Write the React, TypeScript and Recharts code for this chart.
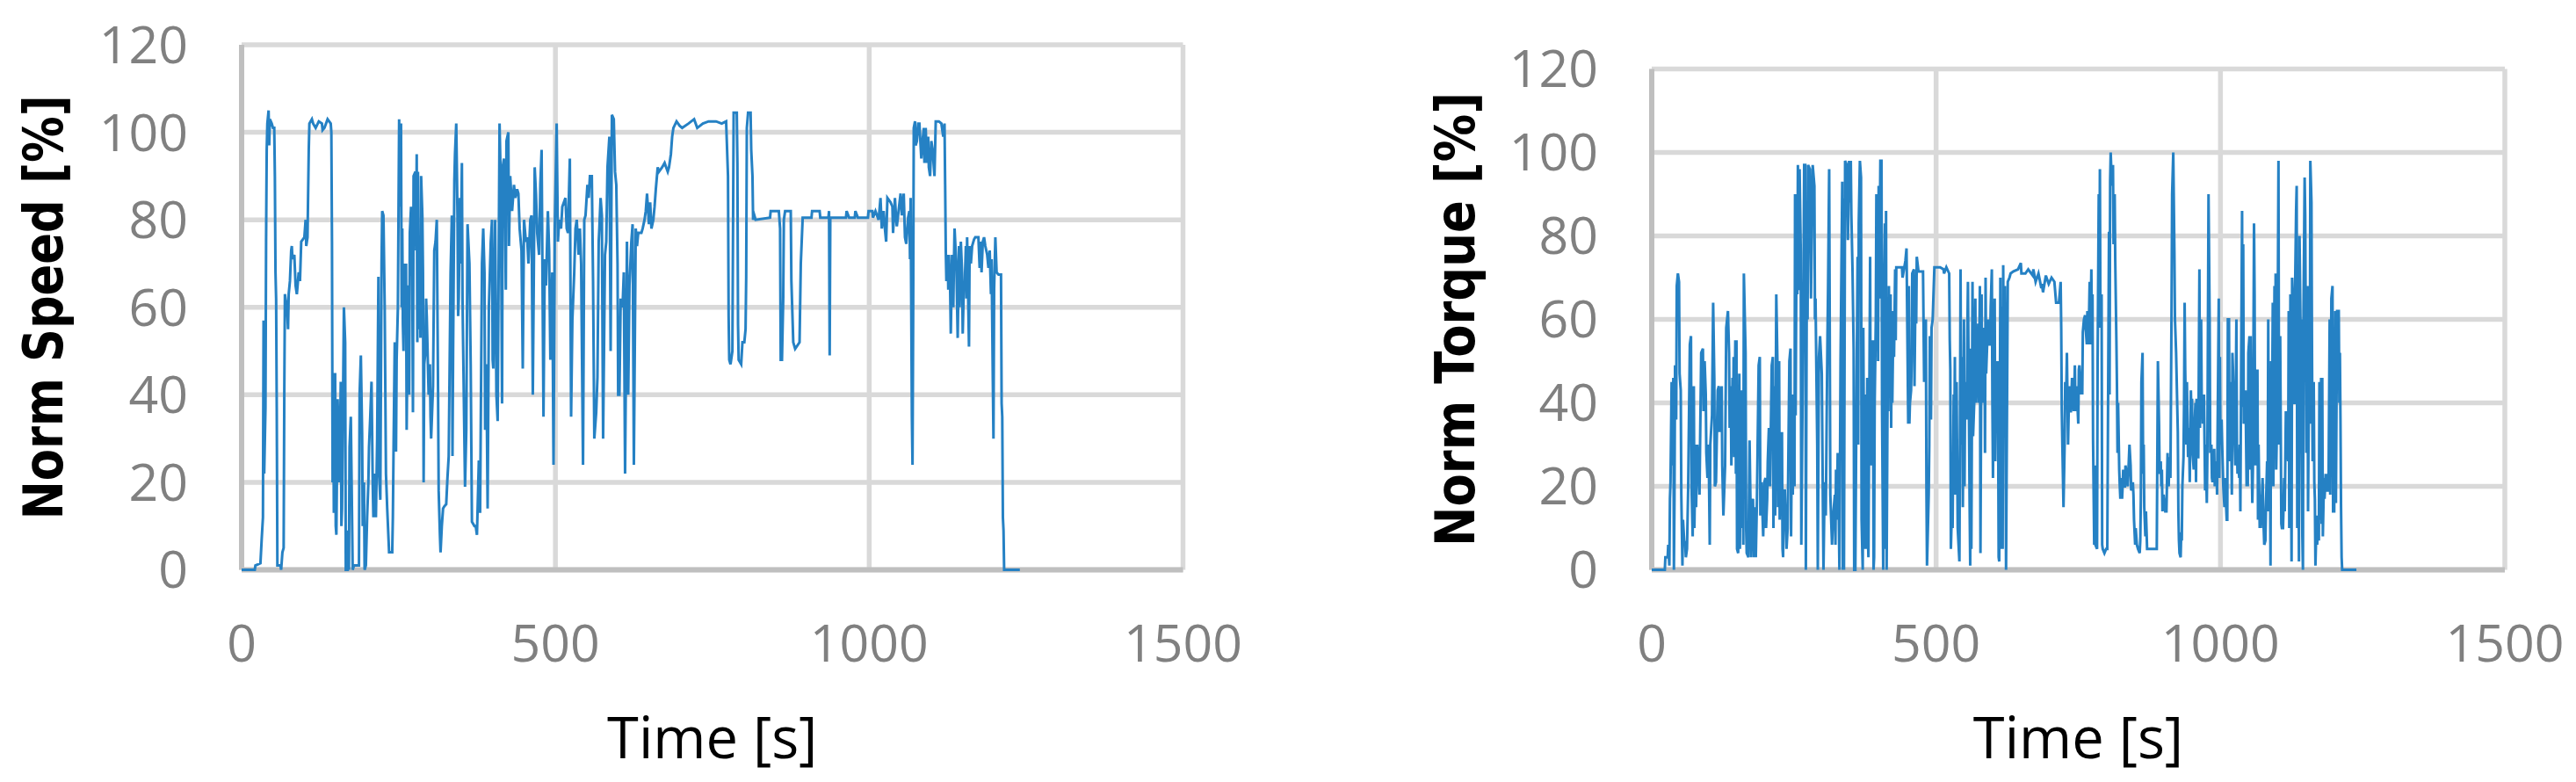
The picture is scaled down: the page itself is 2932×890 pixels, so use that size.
import { LineChart, Line, XAxis, YAxis, CartesianGrid } from "recharts";

// x axis: time in seconds, y axis: normalised percentage
const timeTicks = [0, 500, 1000, 1500];
const pctTicks = [0, 20, 40, 60, 80, 100, 120];

// [time s, norm speed %]
const speedSamples: [number, number][] = [
  [0, 0], [21, 0], [22, 1], [30, 1.5], [32, 7], [34, 12], [35, 57], [36, 22], [38, 37], [39, 75],
  [40, 96], [41, 102], [43, 105], [44, 97], [45, 103], [48, 102], [50, 101], [52, 101], [53, 90], [54, 68],
  [55, 62], [56, 37], [57, 1], [62, 1], [63, 0], [65, 4], [67, 5], [68, 40], [69, 63], [72, 60],
  [73, 58], [74, 55], [75, 63], [77, 66], [79, 73], [80, 74], [81, 71], [84, 72], [86, 65], [88, 63],
  [91, 68], [93, 66], [95, 75], [100, 76], [102, 80], [103, 74], [105, 76], [107, 96], [108, 102], [112, 103],
  [114, 102], [118, 101], [123, 102.5], [128, 102], [129, 100.5], [132, 101], [137, 103], [142, 102], [143, 100], [144, 75],
  [145, 20], [146, 45], [147, 13], [149, 45], [150, 10], [151, 8], [153, 39], [156, 20], [158, 43], [159, 10],
  [160, 14], [163, 60], [165, 52], [166, 0], [169, 0], [170, 9], [171, 0], [172, 28], [174, 35], [177, 0],
  [179, 1], [187, 1], [188, 40], [190, 49], [192, 31], [193, 10], [195, 20], [196, 0], [198, 1], [200, 12],
  [202, 20], [203, 28], [205, 35], [207, 43], [209, 19], [210, 12], [212, 22], [214, 12], [216, 30], [218, 67],
  [219, 22], [221, 16], [223, 70], [224, 82], [226, 81], [228, 60], [230, 22], [232, 14], [235, 4], [240, 4],
  [241, 12], [242, 26], [244, 52], [246, 27], [247, 48], [249, 60], [251, 103], [252, 83], [254, 102], [255, 60],
  [256, 78], [257, 56], [258, 50], [259, 70], [260, 60], [262, 70], [263, 32], [265, 65], [267, 40], [268, 77],
  [270, 83], [272, 67], [273, 36], [274, 90], [277, 91], [278, 73], [279, 95], [280, 52], [281, 91], [282, 55],
  [284, 70], [285, 53], [286, 90], [288, 81], [289, 68], [290, 20], [291, 47], [293, 50], [294, 62], [295, 58],
  [298, 40], [300, 47], [301, 35], [302, 30], [305, 42], [307, 73], [309, 75], [311, 80], [313, 41], [314, 18],
  [316, 8], [317, 4], [319, 10], [321, 14], [323, 14.5], [326, 15], [328, 21], [330, 26], [333, 68], [335, 81],
  [336, 26], [337, 50], [339, 89], [340, 95], [342, 102], [344, 81], [345, 58], [346, 62], [348, 85], [349, 70],
  [351, 93], [352, 62], [353, 51], [356, 19], [358, 32], [360, 79], [363, 70], [365, 47], [367, 11], [371, 10],
  [373, 10], [375, 8], [378, 25], [380, 13], [383, 70], [385, 78], [387, 68], [388, 32], [390, 47], [392, 14],
  [394, 60], [397, 75], [399, 80], [400, 48], [401, 46], [404, 80], [406, 40], [408, 34], [411, 102], [413, 88],
  [415, 38], [416, 92], [418, 94], [420, 78], [421, 64], [422, 98], [425, 100], [426, 74], [428, 90], [431, 82],
  [434, 88], [436, 85], [439, 87], [441, 86], [443, 78], [446, 73], [448, 46], [450, 80], [453, 75], [455, 76],
  [457, 70], [460, 80], [462, 81], [464, 40], [467, 92], [469, 86], [471, 77], [474, 72], [476, 88], [478, 96],
  [481, 35], [483, 71], [485, 65], [488, 82], [490, 73], [492, 48], [495, 68], [497, 24], [499, 78], [502, 102],
  [504, 75], [506, 80], [509, 78], [511, 83], [516, 85], [518, 78], [520, 77], [523, 94], [525, 35], [527, 57],
  [530, 68], [532, 78], [534, 80], [537, 72], [539, 78], [541, 70], [544, 24], [546, 80], [548, 81], [551, 88],
  [553, 85], [555, 90], [558, 90], [560, 66], [562, 30], [565, 36], [567, 44], [568, 60], [569, 75], [570, 78],
  [572, 85], [574, 81], [576, 30], [579, 72], [581, 75], [583, 92], [586, 99], [588, 50], [590, 104], [593, 103],
  [595, 91], [597, 88], [599, 70], [600, 40], [602, 40], [604, 62], [607, 60], [609, 68], [611, 22], [614, 75],
  [616, 40], [618, 65], [621, 75], [623, 79], [625, 24], [628, 78], [630, 74], [632, 77], [637, 77], [639, 78],
  [642, 80], [644, 82], [646, 86], [649, 79], [651, 84], [653, 78], [656, 80], [658, 83], [660, 87], [663, 92],
  [665, 91], [670, 92], [674, 93], [679, 91], [681, 92], [684, 95], [686, 99], [688, 101], [693, 102.5], [698, 101.5],
  [702, 101], [712, 102], [721, 103], [726, 101], [735, 102], [744, 102.5], [756, 102.5], [765, 102], [772, 102.5], [775, 90],
  [776, 58], [777, 48], [779, 47], [782, 50], [784, 104.5], [789, 104.5], [790, 93], [791, 56], [792, 48], [796, 47],
  [798, 52], [801, 52], [803, 55], [804, 67], [805, 101], [807, 104.5], [811, 104.5], [812, 96], [814, 90], [815, 80],
  [817, 81], [819, 80], [842, 80.5], [843, 82], [856, 82], [858, 78], [859, 48], [861, 48], [863, 62], [864, 80],
  [866, 82], [875, 82], [876, 66], [879, 52], [882, 50.5], [889, 52], [891, 70], [894, 80.5], [908, 80.5], [909, 82],
  [921, 82], [922, 80.5], [935, 80.5], [936, 82], [937, 49], [938, 80.5], [963, 80.5], [964, 82], [968, 80.5], [977, 80.5],
  [978, 82], [982, 80.5], [998, 80.5], [999, 82], [1005, 82], [1006, 80.5], [1010, 82], [1015, 80], [1018, 85], [1020, 78],
  [1023, 82], [1025, 78], [1027, 75], [1029, 85], [1034, 84], [1037, 83], [1038, 77], [1041, 85], [1043, 80], [1044, 78.5],
  [1048, 83.5], [1050, 86], [1052, 81], [1055, 86], [1057, 76], [1059, 74.5], [1062, 80.5], [1064, 82], [1065, 71], [1066, 85],
  [1068, 35], [1069, 24], [1070, 57], [1071, 101], [1073, 102.5], [1074, 97], [1076, 98], [1078, 102], [1080, 102], [1083, 94],
  [1085, 98], [1087, 101], [1088, 93], [1090, 101], [1092, 93], [1094, 99], [1095, 92], [1097, 90], [1099, 98], [1101, 96],
  [1104, 90], [1106, 102.5], [1111, 102.5], [1115, 102], [1118, 99], [1120, 102], [1121, 88], [1122, 73], [1123, 66], [1125, 72],
  [1126, 64], [1127, 72], [1129, 64], [1130, 54], [1132, 72], [1133, 67], [1134, 60], [1135, 70], [1136, 78], [1139, 69],
  [1141, 53], [1143, 74], [1144, 60], [1146, 75], [1148, 68], [1149, 54], [1151, 66], [1152, 64], [1154, 74], [1155, 62],
  [1156, 76], [1157, 68], [1159, 51], [1160, 74], [1162, 70], [1164, 74], [1167, 75.5], [1169, 76], [1174, 76], [1176, 69],
  [1177, 75], [1178, 73], [1179, 68], [1181, 75], [1183, 76], [1185, 74], [1188, 72], [1190, 69], [1192, 73], [1194, 63],
  [1195, 71], [1197, 43], [1198, 30], [1199, 64], [1201, 76], [1203, 68], [1206, 67.5], [1210, 67.5], [1211, 38], [1212, 35],
  [1213, 12], [1214, 9], [1215, 0], [1240, 0],
];

// [time s, norm torque %]
const torqueSamples: [number, number][] = [
  [0, 0], [23, 0], [24, 3], [28, 3], [29, 6], [31, 1], [32, 17], [33, 21], [35, 45], [36, 25],
  [38, 46], [39, 0], [40, 17], [41, 49], [43, 36], [44, 68], [46, 71], [48, 69], [49, 47], [51, 43],
  [52, 18], [54, 1], [55, 12], [57, 7], [59, 6], [60, 3], [62, 5], [64, 19], [67, 54], [69, 56],
  [70, 20], [72, 8], [74, 44], [75, 10], [77, 30], [78, 15], [80, 30], [82, 25], [84, 18], [85, 30],
  [87, 52], [90, 53], [91, 38], [93, 50], [95, 42], [96, 28], [98, 22], [100, 30], [102, 6], [103, 30],
  [106, 37], [108, 64], [110, 46], [111, 20], [113, 21], [116, 43], [118, 44], [119, 33], [121, 40], [123, 44],
  [124, 25], [126, 13], [129, 25], [131, 58], [134, 62], [136, 52], [137, 34], [139, 44], [140, 25], [142, 46],
  [143, 28], [144, 51], [145, 27], [147, 55], [148, 23], [149, 55], [150, 5], [152, 4], [154, 47], [155, 5],
  [157, 43], [158, 10], [160, 40], [161, 6], [162, 71], [165, 52], [166, 10], [167, 4], [170, 3], [172, 31],
  [175, 3], [176, 16], [178, 17], [180, 3], [181, 15], [183, 3], [185, 17], [188, 49], [190, 51], [191, 13],
  [193, 21], [196, 8], [198, 21], [200, 22], [201, 10], [203, 17], [204, 26], [206, 34], [208, 20], [211, 49],
  [213, 51], [214, 10], [216, 44], [217, 13], [219, 66], [221, 50], [222, 15], [224, 50], [225, 12], [226, 31],
  [229, 33], [230, 5], [231, 3], [232, 19], [234, 19], [237, 5], [239, 10], [240, 24], [242, 50], [244, 53],
  [245, 8], [247, 42], [248, 18], [250, 41], [251, 20], [252, 90], [253, 37], [255, 90], [256, 66], [257, 97],
  [258, 67], [260, 96], [262, 76], [263, 6], [265, 38], [267, 73], [268, 97], [270, 97], [271, 0], [273, 85],
  [274, 60], [275, 97], [278, 96], [279, 77], [280, 65], [283, 97], [286, 92], [287, 60], [288, 65], [291, 30],
  [292, 0], [294, 51], [296, 56], [299, 47], [301, 15], [302, 0], [304, 21], [306, 13], [309, 56], [310, 67],
  [312, 96], [314, 18], [317, 6], [319, 13], [322, 18], [323, 6], [324, 24], [325, 12], [327, 28], [329, 12],
  [330, 0], [332, 50], [335, 93], [336, 0], [337, 89], [338, 0], [340, 98], [343, 97], [345, 79], [347, 98],
  [348, 88], [350, 98], [351, 85], [353, 72], [355, 53], [356, 0], [358, 0], [360, 42], [362, 75], [363, 30],
  [364, 83], [366, 98], [368, 94], [369, 12], [371, 0], [372, 58], [374, 5], [376, 42], [377, 5], [379, 46],
  [380, 9], [381, 3], [384, 75], [385, 25], [386, 55], [387, 34], [389, 55], [390, 0], [391, 3], [392, 40],
  [394, 60], [395, 90], [397, 87], [398, 50], [399, 92], [400, 65], [402, 98], [404, 98], [405, 38], [407, 0],
  [408, 62], [410, 83], [411, 5], [412, 86], [413, 0], [415, 51], [416, 38], [417, 68], [418, 42], [420, 66],
  [421, 34], [422, 62], [423, 40], [425, 62], [426, 51], [428, 72], [429, 55], [430, 72.5], [440, 72.5], [441, 70],
  [446, 74], [448, 77], [451, 35], [452, 68], [453, 35], [454, 40], [456, 43], [457, 50], [458, 71], [461, 72],
  [462, 44], [464, 70], [465, 59], [466, 75], [469, 71.5], [477, 71.5], [479, 45], [482, 60], [483, 20], [484, 1],
  [487, 18], [488, 30], [489, 56], [491, 36], [492, 58], [494, 60], [497, 72.5], [507, 72.5], [513, 72], [514, 71],
  [518, 72.5], [523, 71], [524, 55], [525, 48], [526, 5], [528, 16], [529, 10], [531, 42], [532, 31], [533, 51],
  [534, 18], [536, 45], [538, 10], [541, 2], [542, 35], [543, 72], [544, 30], [546, 51], [547, 15], [549, 60],
  [550, 20], [551, 44], [552, 45], [554, 36], [555, 57], [556, 69], [557, 51], [559, 15], [560, 1], [561, 53],
  [562, 5], [564, 69], [565, 32], [567, 40], [569, 65], [570, 40], [572, 50], [573, 47], [574, 59], [575, 40],
  [577, 68], [578, 4], [580, 66], [581, 40], [582, 57], [583, 40], [585, 58], [586, 28], [587, 70], [588, 47],
  [590, 55], [592, 60], [593, 54], [595, 54], [596, 63], [598, 72], [599, 40], [600, 22], [601, 45], [603, 65],
  [604, 26], [605, 40], [608, 50], [609, 38], [610, 3], [611, 2], [613, 70], [614, 5], [616, 63], [617, 5],
  [618, 73], [619, 45], [621, 68], [623, 0], [626, 69], [629, 70], [631, 71], [636, 71.5], [644, 72], [649, 73.5],
  [650, 71], [657, 71], [662, 72], [670, 70.5], [671, 72], [675, 69], [680, 71], [685, 67.5], [686, 68.5], [688, 66.5],
  [693, 70.5], [698, 68.5], [703, 70], [708, 69], [711, 64], [716, 64], [719, 69], [720, 58], [721, 38], [722, 30],
  [724, 15], [726, 30], [727, 45], [729, 44], [730, 52], [732, 30], [734, 44], [735, 38], [737, 38], [739, 46],
  [740, 42], [742, 38], [744, 49], [745, 38], [747, 44], [750, 35], [751, 48], [752, 49], [755, 42], [756, 46],
  [757, 42], [758, 57], [760, 60], [762, 61], [763, 58], [765, 54], [766, 62], [768, 54], [770, 69], [771, 54],
  [773, 72], [774, 55], [775, 66], [776, 31], [778, 6], [779, 25], [780, 6], [783, 5], [784, 50], [786, 90],
  [787, 60], [788, 96], [789, 58], [791, 66], [792, 6], [793, 5], [796, 4], [799, 5], [801, 5], [802, 30],
  [804, 81], [805, 42], [806, 93], [807, 100], [809, 92], [811, 97], [812, 78], [814, 90], [815, 74], [817, 55],
  [818, 44], [819, 28], [820, 40], [822, 24], [823, 20], [824, 17], [825, 22], [827, 17], [828, 20], [829, 24],
  [830, 20], [832, 20], [833, 25], [835, 23], [837, 20], [840, 30], [842, 25], [843, 19], [845, 20], [846, 21],
  [847, 18], [848, 12], [850, 6], [851, 10], [853, 6], [855, 5], [858, 4], [859, 7], [860, 17], [861, 45],
  [863, 52], [864, 23], [865, 30], [866, 15], [868, 8], [869, 14], [871, 5], [888, 5], [890, 50], [892, 35],
  [893, 23], [895, 26], [896, 20], [897, 24], [898, 14], [900, 18], [903, 14], [905, 14], [907, 28], [908, 21],
  [909, 20], [910, 27], [912, 22], [914, 63], [915, 90], [917, 100], [919, 76], [920, 60], [922, 52], [925, 33],
  [926, 14], [927, 7], [928, 4], [930, 3], [931, 9], [932, 7], [933, 20], [935, 27], [936, 40], [937, 64],
  [938, 48], [940, 30], [941, 45], [943, 27], [944, 34], [945, 30], [946, 21], [948, 43], [949, 36], [950, 41],
  [951, 28], [953, 24], [954, 33], [956, 40], [957, 21], [958, 41], [959, 27], [961, 27], [963, 72], [964, 34],
  [966, 60], [967, 41], [968, 42], [969, 35], [971, 42], [973, 19], [974, 30], [976, 16], [977, 28], [979, 90],
  [981, 60], [982, 28], [984, 30], [985, 22], [986, 21], [989, 29], [990, 20], [992, 24], [993, 26], [994, 18],
  [997, 65], [998, 22], [999, 51], [1000, 30], [1002, 36], [1003, 30], [1004, 25], [1005, 20], [1007, 15], [1008, 22],
  [1010, 15], [1011, 12], [1012, 12], [1013, 60], [1015, 60], [1016, 26], [1017, 35], [1018, 45], [1020, 18], [1021, 52],
  [1022, 48], [1025, 30], [1026, 25], [1028, 60], [1029, 30], [1030, 23], [1031, 27], [1033, 22], [1034, 30], [1035, 14],
  [1036, 40], [1038, 86], [1039, 39], [1040, 78], [1041, 35], [1043, 38], [1044, 43], [1046, 20], [1047, 40], [1048, 20],
  [1049, 52], [1051, 56], [1052, 24], [1053, 56], [1054, 35], [1056, 16], [1057, 24], [1059, 83], [1060, 66], [1061, 25],
  [1062, 44], [1064, 41], [1065, 48], [1066, 12], [1067, 30], [1069, 10], [1070, 18], [1071, 10], [1072, 14], [1074, 22],
  [1076, 10], [1077, 6], [1079, 7], [1080, 15], [1082, 26], [1083, 14], [1084, 60], [1085, 22], [1087, 28], [1088, 1],
  [1089, 50], [1090, 23], [1092, 64], [1093, 20], [1095, 68], [1096, 30], [1097, 71], [1098, 24], [1100, 40], [1102, 98],
  [1103, 30], [1105, 56], [1107, 11], [1108, 10], [1110, 10], [1112, 22], [1113, 14], [1115, 38], [1116, 28], [1118, 28],
  [1119, 26], [1120, 62], [1121, 10], [1123, 66], [1124, 28], [1125, 2], [1126, 70], [1128, 61], [1129, 40], [1130, 40],
  [1131, 65], [1133, 86], [1134, 92], [1135, 10], [1136, 73], [1138, 2], [1139, 80], [1141, 55], [1142, 60], [1143, 28],
  [1144, 8], [1145, 0], [1146, 62], [1148, 94], [1149, 85], [1151, 28], [1153, 68], [1154, 14], [1156, 55], [1157, 35],
  [1158, 98], [1160, 88], [1161, 50], [1162, 26], [1164, 45], [1165, 21], [1166, 17], [1167, 1], [1169, 13], [1170, 6],
  [1172, 13], [1173, 7], [1174, 45], [1175, 12], [1177, 46], [1178, 11], [1179, 46], [1180, 8], [1182, 22], [1183, 17],
  [1185, 23], [1186, 19], [1187, 23], [1188, 19], [1190, 19], [1192, 60], [1193, 18], [1195, 65], [1197, 68], [1198, 14],
  [1200, 14], [1201, 38], [1202, 62], [1203, 16], [1205, 62], [1208, 62], [1209, 40], [1210, 52], [1211, 36], [1212, 15],
  [1213, 3], [1214, 0], [1239, 0],
];

const LINE_COLOR = "#2581c4";
const GRID_COLOR = "#d9d9d9";
const AXIS_COLOR = "#bfbfbf";
const TICK_FONT = "'Open Sans', 'Liberation Sans', sans-serif";
const TITLE_FONT = "'DejaVu Sans', Verdana, sans-serif";
const CHART_H = 890;
const X_AXIS_H = 241.5;

const toRows = (samples: [number, number][]) => samples.map(([t, v]) => ({ t, v }));

// rotated, bold y-axis title squeezed to the reference length
// eslint-disable-next-line @typescript-eslint/no-explicit-any
const YTitle = ({ text, baseX, cy, length }: any) => (
  <text
    x={baseX}
    y={cy}
    transform={`rotate(-90, ${baseX}, ${cy})`}
    textAnchor="middle"
    fontFamily={TITLE_FONT}
    fontWeight="bold"
    fontSize={62}
    fill="#000000"
    textLength={length}
    lengthAdjust="spacingAndGlyphs"
  >
    {text}
  </text>
);

interface PanelProps {
  rows: { t: number; v: number }[];
  title: string;
  left: number;
  width: number;
  top: number;
  right: number;
  yAxisWidth: number;
  titleX: number;
  titleLength: number;
}

function Panel({ rows, title, left, width, top, right, yAxisWidth, titleX, titleLength }: PanelProps) {
  const plotMid = top + (CHART_H - X_AXIS_H - top) / 2;
  return (
    <div style={{ position: "absolute", left, top: 0 }}>
      <LineChart
        width={width}
        height={CHART_H}
        data={rows}
        margin={{ top, right, bottom: 0, left: 0 }}
      >
        <CartesianGrid stroke={GRID_COLOR} strokeWidth={5.5} />
        <XAxis
          dataKey="t"
          type="number"
          domain={[0, 1500]}
          ticks={timeTicks}
          interval={0}
          height={X_AXIS_H}
          tickLine={false}
          tickSize={0}
          tickMargin={63}
          axisLine={{ stroke: AXIS_COLOR, strokeWidth: 6 }}
          tick={{ fill: "#808080", fontSize: 59, fontFamily: TICK_FONT }}
          label={{
            value: "Time [s]",
            position: "insideBottom",
            offset: 27,
            fill: "#000000",
            fontSize: 65,
            fontFamily: TICK_FONT,
          }}
        />
        <YAxis
          type="number"
          domain={[0, 120]}
          ticks={pctTicks}
          interval={0}
          width={yAxisWidth}
          tickLine={false}
          tickSize={0}
          tickMargin={61}
          axisLine={{ stroke: AXIS_COLOR, strokeWidth: 6 }}
          tick={{ fill: "#808080", fontSize: 59, fontFamily: TICK_FONT }}
          label={<YTitle text={title} baseX={titleX} cy={plotMid} length={titleLength} />}
        />
        <Line
          type="linear"
          dataKey="v"
          stroke={LINE_COLOR}
          strokeWidth={3}
          dot={false}
          activeDot={false}
          isAnimationActive={false}
          zIndex={600}
        />
      </LineChart>
    </div>
  );
}

export default function App() {
  return (
    <div
      style={{
        position: "absolute",
        left: 0,
        top: 0,
        width: 2932,
        height: 890,
        background: "#ffffff",
        overflow: "hidden",
      }}
    >
      <Panel
        rows={toRows(speedSamples)}
        title="Norm Speed [%]"
        left={0}
        width={1466}
        top={51}
        right={119.5}
        yAxisWidth={275}
        titleX={71}
        titleLength={483}
      />
      <Panel
        rows={toRows(torqueSamples)}
        title="Norm Torque [%]"
        left={1466}
        width={1466}
        top={78.5}
        right={81}
        yAxisWidth={414}
        titleX={212}
        titleLength={517}
      />
    </div>
  );
}
